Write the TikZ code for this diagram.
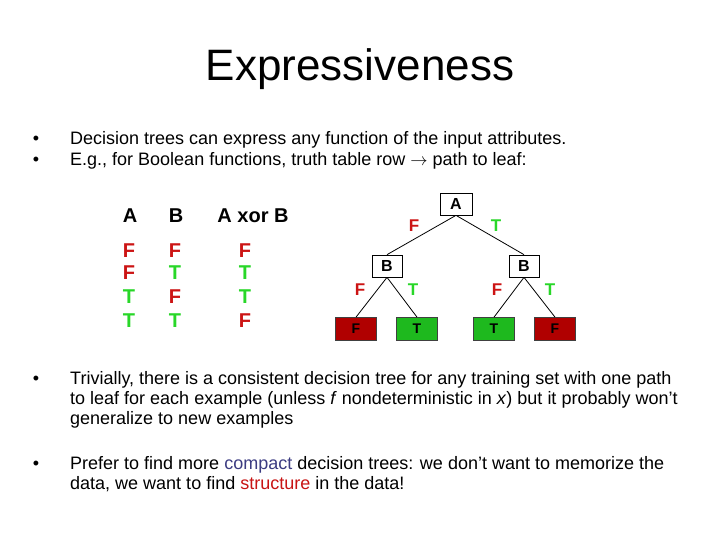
\documentclass[tikz,border=0pt]{standalone}
\usepackage{fontspec}
\setmainfont{Liberation Sans}
\usetikzlibrary{positioning}

\definecolor{tfred}{RGB}{204,20,20}
\definecolor{tfgreen}{RGB}{40,215,40}
\definecolor{leafred}{RGB}{176,0,0}
\definecolor{leafgreen}{RGB}{30,185,30}
\definecolor{compactblue}{RGB}{60,60,130}
\definecolor{structred}{RGB}{200,20,20}
\colorlet{clrF}{tfred}
\colorlet{clrT}{tfgreen}

\begin{document}
\begin{tikzpicture}[
        x=1pt, y=-1pt,
        every node/.style={inner sep=0pt},
        body/.style={anchor=base west, align=left, font=\fontsize{18}{20.5}\selectfont},
        blok/.style={anchor=north west, align=left, font=\fontsize{18}{20}\selectfont},
        bul/.style={anchor=base, font=\fontsize{18}{20}\selectfont},
        tbl/.style={font=\fontsize{20}{20}\selectfont\bfseries},
        knoop/.style={draw, fill=white, line width=0.7pt, minimum width=32pt, minimum height=22pt, font=\fontsize{16}{16}\selectfont\bfseries},
        blad/.style={draw=black!75, line width=0.7pt, minimum width=41pt, minimum height=23pt, text=black, font=\fontsize{14}{14}\selectfont\bfseries},
        lab/.style={font=\fontsize{17}{17}\selectfont\bfseries}
    ]

        \fill[white] (0,0) rectangle (720,540);
        \useasboundingbox (0,0) rectangle (720,540);

        %--------------------------------
        % title and first bullets
        %--------------------------------
        \node[font=\fontsize{44}{44}\selectfont] (titel) at (360,69) {Expressiveness};

        \node[bul] (p1) at (36,145) {•};
        \node[bul] (p2) at (36,166) {•};
        \node[body] (t1) at (70,145) {Decision trees can express any function of the input attributes.};
        \node[body] (t2) at (70,166) {E.g., for Boolean functions, truth table row \(\rightarrow\) path to leaf:};

        %--------------------------------
        % truth table
        %--------------------------------
        \node[tbl] (hA) at (130,216) {A};
        \node[tbl] (hB) at (176,216) {B};
        \node[tbl] (hX) at (253,216) {A xor B};

        \foreach \r/\y/\a/\b/\c in {1/251/F/F/F,2/273/F/T/T,3/297/T/F/T,4/321/T/T/F} {
            \node[tbl, text=clr\a] (ra\r) at (129,\y) {\a};
            \node[tbl, text=clr\b] (rb\r) at (175,\y) {\b};
            \node[tbl, text=clr\c] (rc\r) at (245,\y) {\c};
        }

        %--------------------------------
        % decision tree
        %--------------------------------
        \node[knoop] (nA) at (456,204) {A};
        \node[knoop, minimum width=30pt] (nBl) at (387,266) {B};
        \node[knoop, minimum width=30pt] (nBr) at (524,266) {B};

        \node[blad, fill=leafred] (l1) at (356,329) {F};
        \node[blad, fill=leafgreen] (l2) at (417,329) {T};
        \node[blad, fill=leafgreen] (l3) at (494,329) {T};
        \node[blad, fill=leafred] (l4) at (555,329) {F};

        \draw[line width=0.8pt] (nA.south) -- (nBl.north);
        \draw[line width=0.8pt] (nA.south) -- (nBr.north);
        \draw[line width=0.8pt] (nBl.south) -- (l1.north);
        \draw[line width=0.8pt] (nBl.south) -- (l2.north);
        \draw[line width=0.8pt] (nBr.south) -- (l3.north);
        \draw[line width=0.8pt] (nBr.south) -- (l4.north);

        \node[lab, text=tfred] (e1) at (414,226) {F};
        \node[lab, text=tfgreen] (e2) at (496,226) {T};
        \node[lab, text=tfred] (e3) at (360,290) {F};
        \node[lab, text=tfgreen] (e4) at (413,290) {T};
        \node[lab, text=tfred] (e5) at (497,290) {F};
        \node[lab, text=tfgreen] (e6) at (550,290) {T};

        %--------------------------------
        % last bullets
        %--------------------------------
        \node[bul] (p3) at (36,384) {•};
        \node[blok] (t3) at (70,371) {Trivially, there is a consistent decision tree for any training set with one path\\
            to leaf for each example (unless \textit{f} nondeterministic in \textit{x}) but it probably won't\\
            generalize to new examples};

        \node[bul] (p4) at (36,469) {•};
        \node[blok] (t4) at (70,456) {Prefer to find more \textcolor{compactblue}{compact} decision trees: we don’t want to memorize the\\
            data, we want to find \textcolor{structred}{structure} in the data!};

    \end{tikzpicture}
\end{document}
